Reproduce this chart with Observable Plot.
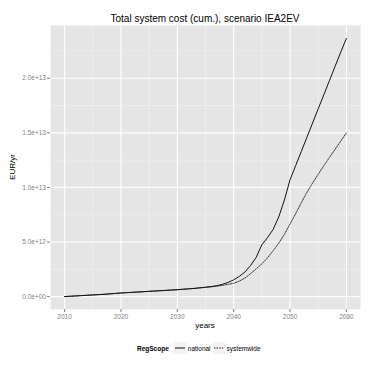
<!DOCTYPE html>
<html>
<head>
<meta charset="utf-8">
<script src="https://cdn.jsdelivr.net/npm/d3@7"></script>
<script src="https://cdn.jsdelivr.net/npm/@observablehq/plot@0.6"></script>
<style>
  html, body { margin: 0; padding: 0; background: #fff; }
  #wrap { position: relative; width: 371px; height: 371px; font-family: "Liberation Sans", Arial, sans-serif; }
  #wrap svg { position: absolute; left: 0; top: 0; }
  .lbl { position: absolute; white-space: nowrap; color: #000; }
</style>
</head>
<body>
<div id="wrap"></div>
<script>
const years = d3.range(2010, 2061);
const national = [
  0.00, 0.03, 0.06, 0.09, 0.12, 0.15, 0.18, 0.21, 0.25, 0.29,
  0.33, 0.36, 0.39, 0.42, 0.45, 0.48, 0.51, 0.54, 0.57, 0.60,
  0.63, 0.67, 0.71, 0.75, 0.80, 0.86, 0.92, 1.00, 1.12, 1.30,
  1.53, 1.85, 2.25, 2.85, 3.60, 4.75, 5.40, 6.15, 7.30, 8.85,
  10.7, 12.0, 13.3, 14.6, 15.9, 17.2, 18.5, 19.8, 21.1, 22.4,
  23.65
];
const systemwide = [
  0.00, 0.03, 0.06, 0.09, 0.12, 0.15, 0.18, 0.21, 0.25, 0.29,
  0.33, 0.36, 0.39, 0.42, 0.45, 0.48, 0.51, 0.54, 0.57, 0.60,
  0.63, 0.67, 0.71, 0.75, 0.80, 0.84, 0.89, 0.95, 1.03, 1.12,
  1.22, 1.42, 1.70, 2.10, 2.55, 3.00, 3.55, 4.20, 4.90, 5.70,
  6.65, 7.60, 8.60, 9.55, 10.40, 11.20, 12.00, 12.75, 13.50, 14.25,
  15.00
];
const scopes = ["national", "systemwide"];
const xTicks = [2010, 2020, 2030, 2040, 2050, 2060];
const xMinor = [2015, 2025, 2035, 2045, 2055];
const yTicks = [0, 5e12, 1e13, 1.5e13, 2e13];
const yMinor = [2.5e12, 7.5e12, 1.25e13, 1.75e13, 2.25e13];

const data = [];
years.forEach((yr, i) => {
  data.push({year: yr, value: national[i] * 1e12, scope: scopes[0]});
  data.push({year: yr, value: systemwide[i] * 1e12, scope: scopes[1]});
});

const fmtY = v => d3.format(".1e")(v).replace(/e([+-])(\d)$/, "e$10$2");
const vmax = d3.max(data, d => d.value);
const vmin = d3.min(data, d => d.value);
const pad = (vmax - vmin) * 0.05;

const plot = Plot.plot({
  width: 371,
  height: 371,
  marginLeft: 50,
  marginRight: 11,
  marginTop: 25,
  marginBottom: 62,
  style: {fontFamily: "Liberation Sans, Arial, sans-serif", background: "transparent"},
  x: {domain: [2010 - 2.5, 2060 + 2.5]},
  y: {domain: [vmin - pad, vmax + pad]},
  marks: [
    Plot.frame({fill: "#E5E5E5", stroke: null}),
    Plot.ruleX(xMinor, {stroke: "#F2F2F2", strokeWidth: 0.6}),
    Plot.ruleY(yMinor, {stroke: "#F2F2F2", strokeWidth: 0.6}),
    Plot.ruleX(xTicks, {stroke: "#FFFFFF", strokeWidth: 1.1}),
    Plot.ruleY(yTicks, {stroke: "#FFFFFF", strokeWidth: 1.1}),
    Plot.axisX({ticks: xTicks, tickFormat: d => String(d), tickSize: 3, tickPadding: 2,
      stroke: "#7F7F7F", fill: "#7F7F7F", fontSize: 6.5, label: null}),
    Plot.axisY({ticks: yTicks, tickFormat: fmtY, tickSize: 3, tickPadding: 1.5,
      stroke: "#7F7F7F", fill: "#7F7F7F", fontSize: 6.5, label: null}),
    Plot.line(data.filter(d => d.scope === "systemwide"), {x: "year", y: "value",
      stroke: "#222", strokeWidth: 0.9, strokeDasharray: "1.4,1.2"}),
    Plot.line(data.filter(d => d.scope === "national"), {x: "year", y: "value",
      stroke: "#111", strokeWidth: 1})
  ]
});

const wrap = document.getElementById("wrap");
wrap.appendChild(plot);

function addLabel(text, css) {
  const d = document.createElement("div");
  d.className = "lbl";
  d.textContent = text;
  Object.assign(d.style, css);
  wrap.appendChild(d);
  return d;
}
addLabel("Total system cost (cum.), scenario IEA2EV",
  {left: "205px", top: "13px", transform: "translateX(-50%)", fontSize: "10px"});
addLabel("years", {left: "205px", top: "321px", transform: "translateX(-50%)", fontSize: "8px"});
addLabel("EUR/yr", {left: "12px", top: "167px", transform: "translate(-50%,-50%) rotate(-90deg)", fontSize: "8px"});

// legend
const leg = document.createElement("div");
leg.className = "lbl";
Object.assign(leg.style, {left: "137px", top: "342px", height: "12px", display: "flex",
  alignItems: "center", fontSize: "6.5px"});
const title = document.createElement("span");
title.textContent = "RegScope";
Object.assign(title.style, {fontWeight: "bold", marginRight: "5px"});
leg.appendChild(title);
scopes.forEach((s, i) => {
  const key = document.createElementNS("http://www.w3.org/2000/svg", "svg");
  key.setAttribute("width", 12); key.setAttribute("height", 12);
  key.style.position = "static";
  key.innerHTML = `<rect width="12" height="12" fill="#F2F2F2"/><line x1="1" x2="11" y1="6" y2="6" stroke="#111" stroke-width="1" ${i ? 'stroke-dasharray="1.4,1.2"' : ''}/>`;
  leg.appendChild(key);
  const t = document.createElement("span");
  t.textContent = s;
  Object.assign(t.style, {marginLeft: "2px", marginRight: "2px"});
  leg.appendChild(t);
});
wrap.appendChild(leg);
</script>
</body>
</html>
